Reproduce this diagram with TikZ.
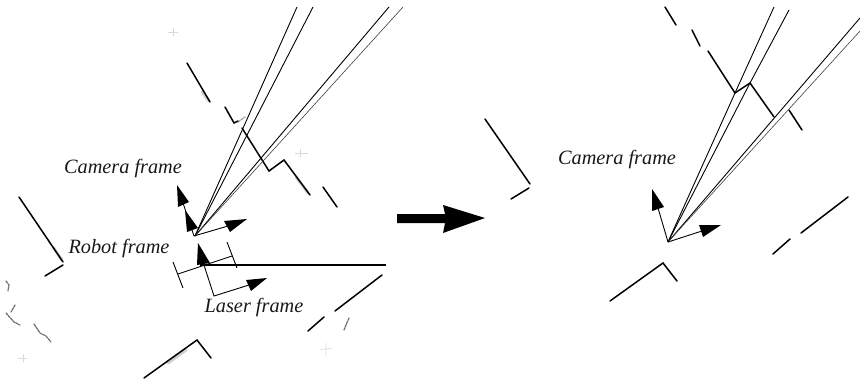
\documentclass[tikz,border=0pt]{standalone}
\usepackage{fontspec}
\setmainfont{Liberation Serif}
\begin{document}
\begin{tikzpicture}[x=1pt,y=-1pt,
  wall/.style={line width=1.5pt,line cap=round,line join=miter},
  thick wall/.style={line width=2pt},
  ray/.style={line width=0.9pt},
  thin ray/.style={line width=0.6pt,black!75},
  axis/.style={line width=0.9pt},
  head/.style={fill=black,draw=none},
  speck/.style={line width=1.3pt,black!55,line cap=round,dash pattern=on 2.5pt off 1pt},
  halo/.style={line width=3pt,black!18,line cap=round},
  faint/.style={line width=0.6pt,black!15},
  lab/.style={font=\fontsize{20.3}{24}\selectfont\itshape,inner sep=0pt,text=black!90}]
\useasboundingbox (0,0) rectangle (860,380);
% ---- left map: shadows and specks
\draw[halo] (53,247)--(62,260);
\draw[halo] (202,92)--(209,101);
\draw[halo] (296,177)--(308,193);
\draw[halo] (168,363)--(186,350);
\draw[speck] (6,281)--(9,285)--(8,291);
\draw[speck] (15,305)--(11,312);
\draw[speck] (6,313)--(14,322)--(20,325);
\draw[speck] (34,324)--(40,333)--(46,336)--(51,342);
\draw[speck] (349,318)--(346,325)--(344,330);
\draw[speck,black!35] (238,122)--(245,117);
\draw[faint] (168,32)--(178,32) (173,28)--(173,36);
\draw[faint] (295,153)--(308,153) (300,149)--(300,157);
\draw[faint] (18,358)--(27,358) (23,354)--(23,362);
\draw[faint] (320,350)--(332,348) (326,343)--(326,356);
% ---- left map: walls
\draw[wall] (19,197)--(63,262);
\draw[wall] (63,265)--(45,276);
\draw[wall] (144,378)--(197,340)--(211,358);
\draw[wall] (335,311)--(382,275);
\draw[wall] (308,331)--(324,317);
\draw[wall] (187,63)--(210,102);
\draw[wall] (225,107)--(234,123)--(238,121);
\draw[wall] (242,128)--(269,171)--(284,160)--(310,195);
\draw[wall] (323,187)--(337,207);
\draw[thick wall] (200,265)--(386,265);
% ---- left view rays
\coordinate (c1) at (195,236);
\coordinate (t1) at (297,7);
\coordinate (t2) at (313,7);
\coordinate (t3) at (389,7);
\coordinate (t4) at (403,7);
\draw[ray] (c1)--(t1);
\draw[ray] (c1)--(t2);
\draw[ray] (c1)--(t3);
\draw[thin ray] (c1)--(t4);
% ---- camera frame (left)
\coordinate (co) at (194,236);
\draw[axis] (co)--(183,203);
\fill[head] (177,185)--(189,202)--(178,207)--cycle;
\fill[head] (185,210)--(198,228)--(187,232)--cycle;
\draw[axis] (co)--(228,226);
\fill[head] (247,219)--(224,221)--(230,232)--cycle;
% ---- robot frame (left)
\fill[head] (198,243)--(210,263)--(197,265)--cycle;
\draw[axis] (178,274)--(232,256);
\draw[axis] (173,262)--(183,288);
\draw[axis] (227,242)--(237,268);
% ---- laser frame (left)
\coordinate (lo) at (214,296);
\draw[axis] (204,265)--(lo)--(249,285);
\fill[head] (267,278)--(246,280)--(251,291)--cycle;
% ---- labels (left)
\node[lab] (cam1) at (123,169) {Camera frame};
\node[lab] (rob) at (119,249) {Robot frame};
\node[lab] (las) at (254,307.5) {Laser frame};
% ---- block arrow
\fill[head] (397,214)--(445,214)--(443,205)--(485,218)--(443,233)--(445,223)--(397,223)--cycle;
% ---- right map: walls
\draw[wall] (665,7)--(676,25);
\draw[wall] (692,30)--(700,46);
\draw[wall] (708,51)--(735,93)--(750,83)--(774,117);
\draw[wall] (789,110)--(802,130);
\draw[wall] (485,119)--(530,184);
\draw[wall] (529,188)--(511,199);
\draw[wall] (610,301)--(663,263)--(677,281);
\draw[wall] (801,233)--(848,197);
\draw[wall] (773,254)--(790,239);
% ---- right view rays
\coordinate (o) at (668,242);
\coordinate (r1) at (774,7);
\coordinate (r2) at (789,10);
\coordinate (r3) at (860,18);
\coordinate (r4) at (860,31);
\draw[ray] (o)--(735,93)--(r1);
\draw[ray] (o)--(750,83)--(r2);
\draw[ray] (o)--(r3);
\draw[thin ray] (o)--(r4);
% ---- camera frame (right)
\draw[axis] (o)--(658,208);
\fill[head] (652,189)--(664,207)--(652,211)--cycle;
\draw[axis] (o)--(702,231);
\fill[head] (721,225)--(699,225)--(703,237)--cycle;
\node[lab] (cam2) at (617,160) {Camera frame};
\end{tikzpicture}
\end{document}
